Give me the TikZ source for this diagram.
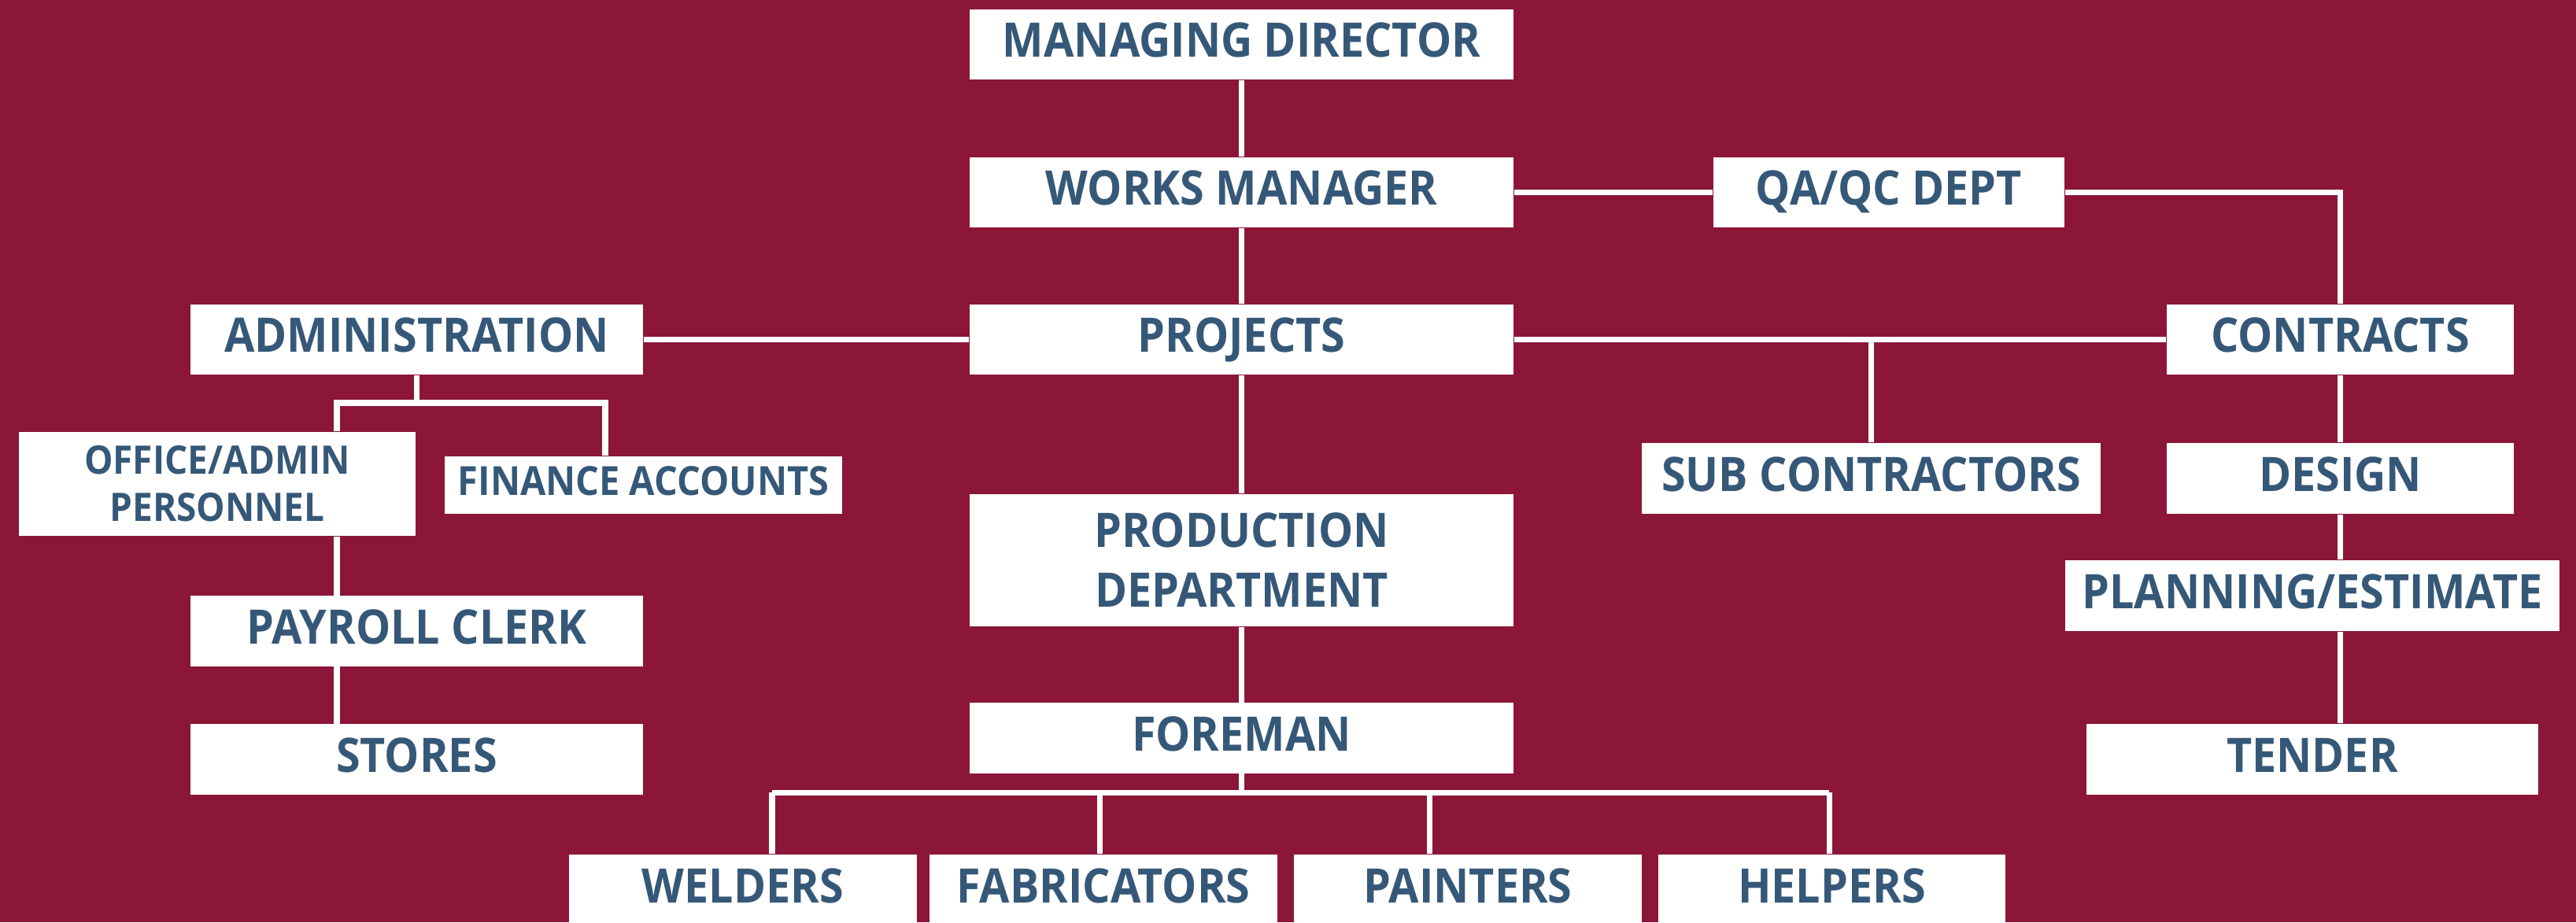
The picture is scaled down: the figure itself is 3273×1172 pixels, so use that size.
\documentclass[tikz,border=0pt]{standalone}
\usepackage{fontspec}
\setmainfont{Open Sans}[FakeStretch=0.92]
\definecolor{bgred}{RGB}{139,22,56}
\definecolor{boxtext}{RGB}{54,88,120}
\tikzset{
    x=0.01cm,
    y=-0.01cm,
    box/.style = {
        shape=rectangle,
        fill=white,
        inner sep=0pt,
        text=boxtext,
        font=\fontsize{17.2}{20}\selectfont\bfseries,
        text height=0.42cm,
        text depth=0.1cm,
        minimum height=0.89cm
    },
    twoline/.style = {
        shape=rectangle,
        fill=white,
        inner sep=0pt,
        text=boxtext,
        align=center
    },
    link/.style = {
        draw=white,
        line width=2pt
    },
}
\begin{document}
\begin{tikzpicture}
    \useasboundingbox (0,0) rectangle (3273,1172);
    \fill[bgred] (0,0) rectangle (3273,1172);

    % top of the chart
    \node[box, minimum width=6.91cm] (md) at (1577.5,56.5) {MANAGING DIRECTOR};
    \node[box, minimum width=6.91cm] (wm) at (1577.5,244.5) {WORKS MANAGER};
    \node[box, minimum width=4.46cm] (qa) at (2400,244.5) {QA/QC DEPT};
    \node[box, minimum width=6.91cm] (proj) at (1577.5,431.5) {PROJECTS};
    \node[box, minimum width=5.75cm] (admin) at (529.5,431.5) {ADMINISTRATION};
    \node[box, minimum width=4.41cm] (con) at (2973.5,431.5) {CONTRACTS};

    % administration side
    \node[twoline, minimum width=5.04cm, minimum height=1.32cm,
        font=\fontsize{14.2}{17}\selectfont\bfseries] (office) at (276,615)
        {OFFICE/ADMIN\\PERSONNEL};
    \node[box, minimum width=5.05cm, minimum height=0.73cm,
        font=\fontsize{14.5}{16}\selectfont\bfseries, text height=0.35cm] (fin) at (817.5,616.5) {FINANCE ACCOUNTS};
    \node[box, minimum width=5.75cm] (pay) at (529.5,802) {PAYROLL CLERK};
    \node[box, minimum width=5.75cm] (stores) at (529.5,965) {STORES};

    % production side
    \node[twoline, minimum width=6.91cm, minimum height=1.68cm,
        font=\fontsize{17.2}{21.6}\selectfont\bfseries] (prod) at (1577.5,712)
        {PRODUCTION\\DEPARTMENT};
    \node[box, minimum width=6.91cm] (fore) at (1577.5,938) {FOREMAN};
    \node[box, minimum width=4.42cm, minimum height=0.9cm] (weld) at (944,1131) {WELDERS};
    \node[box, minimum width=4.42cm, minimum height=0.9cm] (fab) at (1402,1131) {FABRICATORS};
    \node[box, minimum width=4.42cm, minimum height=0.9cm] (paint) at (1865,1131) {PAINTERS};
    \node[box, minimum width=4.41cm, minimum height=0.9cm] (help) at (2327.5,1131) {HELPERS};

    % contracts side
    \node[box, minimum width=5.83cm, minimum height=0.9cm] (sub) at (2377.5,608) {SUB CONTRACTORS};
    \node[box, minimum width=4.41cm, minimum height=0.9cm] (design) at (2973.5,608) {DESIGN};
    \node[box, minimum width=6.28cm, minimum height=0.9cm] (plan) at (2938,757) {PLANNING/ESTIMATE};
    \node[box, minimum width=5.74cm, minimum height=0.9cm] (tender) at (2938,965) {TENDER};

    %connect
    \draw[link] (md) -- (wm);
    \draw[link] (wm) -- (proj);
    \draw[link] (proj) -- (prod);
    \draw[link] (prod) -- (fore);
    \draw[link] (wm) -- (qa);
    \draw[link] (qa.east) -| (con.north);
    \draw[link] (proj) -- (admin);
    \draw[link] (proj) -- (con);
    \draw[link] (sub.north) -- (sub.north |- con.west);
    \draw[link] (con) -- (design);
    \draw[link] (design.south) -- (design.south |- plan.north);
    \draw[link] (design.south |- plan.south) -- (design.south |- tender.north);

    % admin branches
    \coordinate (aleft) at (428,512);
    \coordinate (aright) at (769,512);
    \draw[link] (admin.south) -- (admin.south |- aleft);
    \draw[link] (aleft |- office.north) -- (aleft) -- (aright) -- (aright |- fin.north);
    \draw[link] (aleft |- office.south) -- (aleft |- pay.north);
    \draw[link] (aleft |- pay.south) -- (aleft |- stores.north);

    % foreman branches
    \coordinate (fbus) at (fore.south |- 0,1007);
    \draw[link] (fore.south) -- (fbus);
    \draw[link] (981,1007) -- (2324,1007);
    \foreach \n/\x in {weld/981, fab/1397, paint/1816, help/2324}
        \draw[link] (\x,1007) -- (\n.north -| \x,0);
\end{tikzpicture}
\end{document}
